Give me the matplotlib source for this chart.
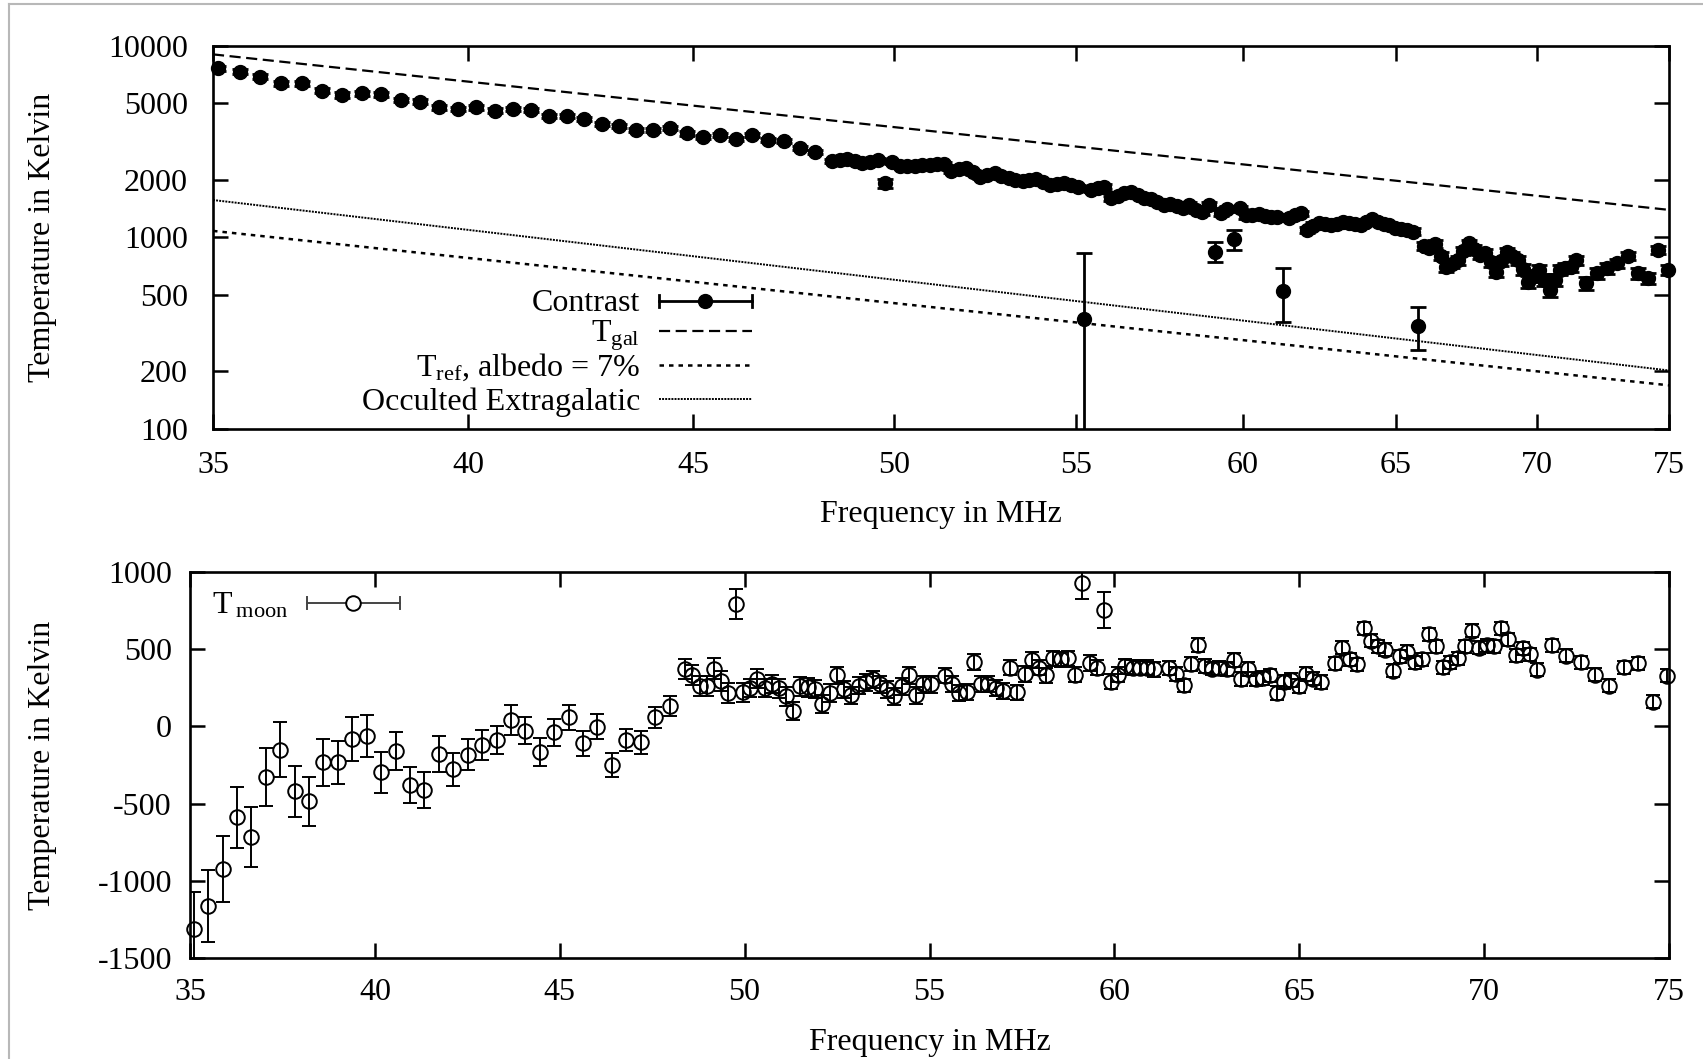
import matplotlib
matplotlib.use('Agg')
import matplotlib.pyplot as plt
from matplotlib.ticker import FixedLocator, NullLocator, FixedFormatter
from matplotlib.lines import Line2D

plt.rcParams['font.family'] = ['Liberation Serif', 'DejaVu Serif']
plt.rcParams['mathtext.fontset'] = 'custom'
plt.rcParams['mathtext.rm'] = 'Liberation Serif'
plt.rcParams['mathtext.it'] = 'Liberation Serif:italic'
plt.rcParams['mathtext.bf'] = 'Liberation Serif:bold'

nan = float('nan')

# ---------------- data ----------------
freq = [35.10, 35.49, 35.88, 36.27, 36.66, 37.05, 37.44, 37.83, 38.22, 38.61,
        39.00, 39.39, 39.78, 40.17, 40.56, 40.95, 41.34, 41.73, 42.12, 42.51,
        42.90, 43.29, 43.68, 44.07, 44.46, 44.85, 45.24, 45.63, 46.02, 46.41,
        46.80, 47.19, 47.58, 47.97,
        48.39, 48.59, 48.78, 48.98, 49.17, 49.37, 49.56, 49.76, 49.95, 50.15,
        50.34, 50.54, 50.73, 50.93, 51.12, 51.32, 51.51, 51.71, 51.91, 52.10,
        52.30, 52.49, 52.69, 52.88, 53.08, 53.27, 53.47, 53.66, 53.86, 54.05,
        54.25, 54.44, 54.64, 54.83, 55.03, 55.23, 55.42, 55.62, 55.81, 56.01,
        56.20, 56.40, 56.59, 56.79, 56.98, 57.18, 57.37, 57.57, 57.76, 57.96,
        58.16, 58.35, 58.55, 58.74, 58.94, 59.13, 59.33, 59.52, 59.72, 59.91,
        60.11, 60.30, 60.50, 60.69, 60.89, 61.08, 61.28, 61.48, 61.67, 61.87,
        62.06, 62.26, 62.45, 62.65, 62.84, 63.04, 63.23, 63.43, 63.62, 63.82,
        64.01, 64.21, 64.40, 64.60, 64.79, 64.99, 65.19, 65.38, 65.58, 65.77,
        65.97, 66.16, 66.36, 66.55, 66.75, 66.94, 67.14, 67.33, 67.53, 67.72,
        67.92, 68.12, 68.31, 68.51, 68.70, 68.90, 69.09, 69.29, 69.48, 69.68,
        69.87, 70.07, 70.26, 70.46, 70.65, 70.85, 71.04, 71.24, 71.44, 71.63,
        71.83, 72.02, 72.22, 72.41, 72.61, 72.80, 73.00, 73.19, 73.39, 73.58,
        73.78, 73.97, 74.17, 74.36, 74.56, 74.75, 74.95]

contrast = [7610, 7310, 6880, 6360, 6360, 5820, 5520, 5640, 5570, 5200,
            5100, 4760, 4670, 4760, 4580, 4670, 4610, 4290, 4290, 4130,
            3900, 3810, 3630, 3630, 3700, 3480, 3320, 3420, 3245, 3420,
            3220, 3180, 2940, 2800,
            2510, 2530, 2550, 2490, 2430, 2480, 2530, 1910, 2480, 2350,
            2360, 2350, 2370, 2380, 2400, 2420, 2230, 2260, 2290, 2180,
            2070, 2120, 2170, 2100, 2030, 2000, 1970, 1990, 2005, 1940,
            1870, 1900, 1930, 1870, 1820, 373, 1765, 1800, 1840, 1600,
            1650, 1700, 1720, 1665, 1600, 1580, 1520, 1470, 1500, 1450,
            1420, 1480, 1390, 1360, 1470, 841, 1344, 1400, 976, 1417,
            1300, 1307, 1320, 1290, 1281, 1270, 526, 1257, 1300, 1334,
            1092, 1150, 1183, 1170, 1159, 1180, 1206, 1190, 1170, 1159,
            1200, 1241, 1200, 1170, 1159, 1120, 1100, 1092, 1070, 346,
            900, 876, 923, 800, 702, 730, 761, 850, 930, 870,
            808, 825, 740, 662, 750, 841, 800, 761, 680, 587,
            630, 675, 600, 531, 600, 675, 690, 702, 761, nan,
            576, nan, 649, nan, 689, nan, 732, nan, 799, nan,
            649, nan, 611, nan, 858, nan, 675]

t_moon = [-1313, -1162, -924, -590, -719, -326, -151, -421, -486, -233,
          -233, -82, -61, -298, -158, -380, -411, -179, -277, -184,
          -121, -89, 41, -28, -164, -39, 58, -110, -3, -251,
          -89, -104, 58, 133,
          371, 332, 263, 263, 375, 296, 216, 792, 220, 250,
          310, 250, 274, 246, 194, 101, 259, 252, 242, 144,
          216, 332, 242, 203, 263, 285, 306, 274, 242, 194,
          259, 332, 203, 274, 274, nan, 328, 274, 216, 224,
          418, 274, 274, 250, 230, 380, 220, 340, 430, 380,
          330, 440, 435, 440, 335, 928, 410, 380, 755, 290,
          335, 390, 380, 380, 380, 370, nan, 380, 340, 265,
          405, 530, 390, 375, 380, 370, 430, 305, 370, 305,
          315, 330, 215, 290, 300, 260, 340, 310, 290, nan,
          410, 511, 436, 403, 635, 555, 520, 496, 360, 453,
          483, 414, 436, 598, 518, 382, 414, 440, 518, 619,
          511, 526, 518, 635, 565, 462, 505, 468, 367, nan,
          526, nan, 457, nan, 414, nan, 335, nan, 263, nan,
          382, nan, 410, nan, 159, nan, 328]

t_err = [240, 232, 212, 198, 194, 188, 178, 167, 160, 150,
         140, 145, 136, 135, 122, 119, 115, 116, 106, 100,
         97, 92, 96, 88, 92, 88, 81, 83, 81, 79,
         70, 72, 70, 67,
         65, 65, 65, 65, 65, 65, 65, 95, 60, 60,
         60, 60, 60, 60, 60, 60, 60, 60, 60, 60,
         60, 55, 55, 55, 55, 55, 55, 55, 55, 55,
         55, 55, 55, 55, 55, 452, 50, 50, 50, 50,
         50, 50, 50, 50, 50, 50, 50, 50, 50, 50,
         50, 50, 50, 50, 50, 100, 50, 50, 117, 48,
         48, 48, 48, 48, 48, 48, 163, 45, 45, 45,
         45, 45, 45, 45, 45, 45, 45, 45, 45, 45,
         45, 45, 45, 45, 45, 45, 45, 45, 45, 87,
         42, 42, 42, 42, 42, 42, 42, 42, 42, 42,
         42, 42, 42, 42, 42, 42, 42, 42, 42, 42,
         42, 42, 42, 42, 42, 42, 42, 42, 42, 42,
         42, 42, 42, 42, 42, 42, 42, 42, 42, 42,
         42, 42, 42, 42, 42, 42, 42]

# model lines (endpoints at 35 and 75 MHz, straight in log-log)
line_freq = [35, 75]
t_gal = [9000, 1390]
t_ref = [1080, 169]
t_occ = [1565, 202]

x_ticks = [35, 40, 45, 50, 55, 60, 65, 70, 75]
top_yticks = [100, 200, 500, 1000, 2000, 5000, 10000]
bot_yticks = [-1500, -1000, -500, 0, 500, 1000]

FS = 23
W, H = 1703, 1059

fig = plt.figure(figsize=(W / 100, H / 100), dpi=100)

# gray image border (top and left)
fig.add_artist(Line2D([9 / W, 9 / W], [0, 1 - 4 / H], transform=fig.transFigure,
                      color='#b8b8b8', lw=1.5))
fig.add_artist(Line2D([9 / W, 1], [1 - 4 / H, 1 - 4 / H], transform=fig.transFigure,
                      color='#b8b8b8', lw=1.5))

ax1 = fig.add_axes([213 / W, 1 - 429 / H, 1456 / W, 383.4 / H])
ax2 = fig.add_axes([190 / W, 1 - 958 / H, 1479 / W, 386 / H])


def style_axes(ax, ypad, xpad):
    for s in ax.spines.values():
        s.set_linewidth(1.9)
    ax.tick_params(which='major', direction='in', length=11, width=1.8,
                   top=True, right=True, labelsize=FS)
    ax.tick_params(axis='y', pad=ypad)
    ax.tick_params(axis='x', pad=xpad)


# ---------------- top panel ----------------
ax1.set_xscale('log')
ax1.set_yscale('log')
ax1.errorbar(freq, contrast, yerr=t_err, fmt='none', ecolor='k',
             elinewidth=2.0, capsize=5.5, capthick=2.0, zorder=3)
ax1.plot(freq, contrast, 'o', color='k', ms=10, clip_on=False, zorder=4)
ax1.plot(line_freq, t_gal, color='k', lw=1.6, dashes=(5, 2.5))
ax1.plot(line_freq, t_ref, color='k', lw=1.8, dashes=(1.8, 2.0))
ax1.plot(line_freq, t_occ, color='k', lw=1.4, dashes=(1.0, 0.6))
ax1.set_xlim(35, 75)
ax1.set_ylim(100, 10000)
ax1.xaxis.set_major_locator(FixedLocator(x_ticks))
ax1.xaxis.set_major_formatter(FixedFormatter([str(t) for t in x_ticks]))
ax1.xaxis.set_minor_locator(NullLocator())
ax1.yaxis.set_major_locator(FixedLocator(top_yticks))
ax1.yaxis.set_major_formatter(FixedFormatter([str(t) for t in top_yticks]))
ax1.yaxis.set_minor_locator(NullLocator())
style_axes(ax1, 18, 15.5)
ax1.set_xlabel('Frequency in MHz', fontsize=FS)
ax1.set_ylabel('Temperature in Kelvin', fontsize=FS)
ax1.xaxis.set_label_coords(0.5, -0.222)
ax1.xaxis.label.set_va('center')
ax1.yaxis.set_label_coords(-0.117, 0.5)
ax1.yaxis.label.set_va('center')

# key (gnuplot style: right-justified text, sample on the right)
tx = 0.2935
sx0, sx1 = 0.3063, 0.3702
sxm = (sx0 + sx1) / 2
rows = [0.3339, 0.2556, 0.1669, 0.0782]
boff = 10.5 / 383.4
labels = ['Contrast', r'T$_{\mathrm{gal}}$', r'T$_{\mathrm{ref}}$, albedo = 7%',
          'Occulted Extragalatic']
for yy, lab in zip(rows, labels):
    ax1.text(tx, yy - boff, lab, transform=ax1.transAxes, ha='right',
             va='baseline', fontsize=FS)
kw = dict(transform=ax1.transAxes, clip_on=False, color='k')
cap = 6 / 383.4
ax1.plot([sx0, sx1], [rows[0], rows[0]], lw=2.0, **kw)
ax1.plot([sx0, sx0], [rows[0] - cap, rows[0] + cap], lw=2.0, **kw)
ax1.plot([sx1, sx1], [rows[0] - cap, rows[0] + cap], lw=2.0, **kw)
ax1.plot([sxm], [rows[0]], 'o', ms=10, **kw)
ax1.plot([sx0, sx1], [rows[1], rows[1]], lw=1.6, dashes=(5, 2.5), **kw)
ax1.plot([sx0, sx1], [rows[2], rows[2]], lw=1.8, dashes=(1.8, 2.0), **kw)
ax1.plot([sx0, sx1], [rows[3], rows[3]], lw=1.4, dashes=(1.0, 0.6), **kw)

# ---------------- bottom panel ----------------
ax2.errorbar(freq, t_moon, yerr=t_err, fmt='none', ecolor='k',
             elinewidth=1.4, capsize=5, capthick=1.4, zorder=3)
ax2.plot(freq, t_moon, 'o', mfc='none', mec='k', mew=1.4, ms=10.5,
         clip_on=False, zorder=4)
ax2.set_xlim(35, 75)
ax2.set_ylim(-1500, 1000)
ax2.xaxis.set_major_locator(FixedLocator(x_ticks))
ax2.xaxis.set_major_formatter(FixedFormatter([str(t) for t in x_ticks]))
ax2.yaxis.set_major_locator(FixedLocator(bot_yticks))
ax2.yaxis.set_major_formatter(FixedFormatter([str(t) for t in bot_yticks]))
style_axes(ax2, 13, 14.5)
ax2.set_xlabel('Frequency in MHz', fontsize=FS)
ax2.set_ylabel('Temperature in Kelvin', fontsize=FS)
ax2.xaxis.set_label_coords(0.5, -0.218)
ax2.xaxis.label.set_va('center')
ax2.yaxis.set_label_coords(-0.1, 0.5)
ax2.yaxis.label.set_va('center')

bx0, bx1 = 0.0791, 0.142
bxm = 0.1102
by = 0.9195
ax2.text(0.0663, by - 10.5 / 386, r'T$\,_{\mathrm{moon}}$', transform=ax2.transAxes,
         ha='right', va='baseline', fontsize=FS)
kw2 = dict(transform=ax2.transAxes, clip_on=False, color='#444444')
cap2 = 6 / 386
ax2.plot([bx0, bx1], [by, by], lw=1.4, **kw2)
ax2.plot([bx0, bx0], [by - cap2, by + cap2], lw=1.4, **kw2)
ax2.plot([bx1, bx1], [by - cap2, by + cap2], lw=1.4, **kw2)
ax2.plot([bxm], [by], 'o', mfc='white', mec='k', mew=1.4, ms=10.5,
         transform=ax2.transAxes, clip_on=False)

fig.savefig('out.png', dpi=100)
